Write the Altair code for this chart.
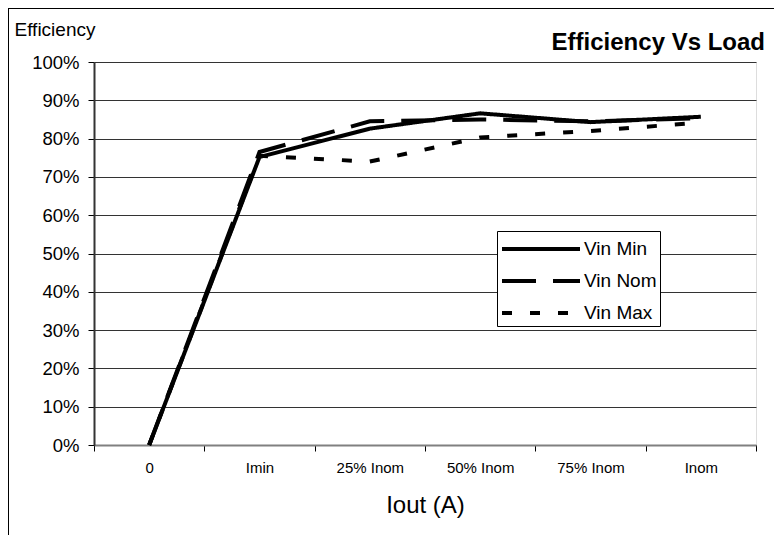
import altair as alt
import pandas as pd

categories = ["0", "Imin", "25% Inom", "50% Inom", "75% Inom", "Inom"]
series_names = ["Vin Min", "Vin Nom", "Vin Max"]
vin_min = [0.0, 75.2, 82.6, 86.6, 84.3, 85.7]
vin_nom = [0.0, 76.5, 84.5, 85.0, 84.5, 85.3]
vin_max = [0.0, 75.5, 74.0, 80.3, 82.0, 84.2]
y_ticks = [0.0, 0.1, 0.2, 0.3, 0.4, 0.5, 0.6, 0.7, 0.8, 0.9, 1.0]
chart_title = ["Efficiency Vs Load"]

rows = []
for name, vals in zip(series_names, [vin_min, vin_nom, vin_max]):
    for c, v in zip(categories, vals):
        rows.append({"Iout": c, "Efficiency": v / 100.0, "Series": name})
df = pd.DataFrame(rows)
title_df = pd.DataFrame({"t": chart_title})

FONT = "Liberation Sans"

lines = alt.Chart(df).mark_line(color="black", strokeWidth=4, clip=False).encode(
    x=alt.X(
        "Iout:N",
        sort=categories,
        scale=alt.Scale(type="band", paddingInner=0, paddingOuter=0),
        axis=alt.Axis(
            title="Iout (A)",
            labelAngle=0,
            tickBand="extent",
            grid=False,
            ticks=True,
            tickSize=6,
            tickColor="#000000",
            domainColor="#808080",
            domainWidth=2,
            labelFont=FONT,
            labelFontSize=15,
            labelColor="black",
            labelPadding=9,
            titleFont=FONT,
            titleFontSize=24,
            titleFontWeight="normal",
            titleColor="black",
            titlePadding=18,
        ),
    ),
    y=alt.Y(
        "Efficiency:Q",
        scale=alt.Scale(domain=[0, 1]),
        axis=alt.Axis(
            title="Efficiency",
            values=y_ticks,
            format=".0%",
            grid=True,
            gridColor="#333333",
            gridWidth=1,
            tickSize=6,
            tickColor="#000000",
            domainColor="#333333",
            domainWidth=2,
            labelFont=FONT,
            labelFontSize=18.5,
            labelColor="black",
            labelPadding=9,
            titleFont=FONT,
            titleFontSize=19,
            titleFontWeight="normal",
            titleColor="black",
            titleAngle=0,
            titleAlign="left",
            titleBaseline="alphabetic",
            titleX=-80,
            titleY=-27,
        ),
    ),
    strokeDash=alt.StrokeDash(
        "Series:N",
        sort=series_names,
        scale=alt.Scale(domain=series_names, range=[[1, 0], [34, 17], [10, 18]]),
        legend=alt.Legend(
            title=None,
            orient="none",
            legendX=403,
            legendY=169,
            symbolType="M-1,0H5",
            symbolSize=676,
            symbolStrokeWidth=4,
            symbolStrokeColor="black",
            labelFont=FONT,
            labelFontSize=19,
            labelColor="black",
            labelOffset=54,
            strokeColor="black",
            fillColor="white",
            padding=3,
            rowPadding=7,
        ),
    ),
)

title_mark = alt.Chart(title_df).mark_text(
    font=FONT, fontSize=24, fontWeight="bold", color="black",
    align="right", baseline="alphabetic", clip=False,
).encode(text="t:N", x=alt.value(671), y=alt.value(-12))

frame_left = alt.Chart(df).mark_rule(color="black", strokeWidth=1, clip=False).encode(
    x=alt.value(-85.5), y=alt.value(-53.5), y2=alt.value(600)
)
frame_top = alt.Chart(df).mark_rule(color="black", strokeWidth=1, clip=False).encode(
    x=alt.value(-85.5), x2=alt.value(800), y=alt.value(-53.5)
)

chart = alt.layer(frame_left, frame_top, title_mark, lines).properties(
    width=662,
    height=383,
    autosize=alt.AutoSizeParams(type="none"),
    padding={"left": 86, "top": 54, "right": 18, "bottom": 90},
).configure_view(stroke="#808080", strokeWidth=2).configure(background="white")

chart.save("out.html", embed_options={"renderer": "svg", "actions": False})
